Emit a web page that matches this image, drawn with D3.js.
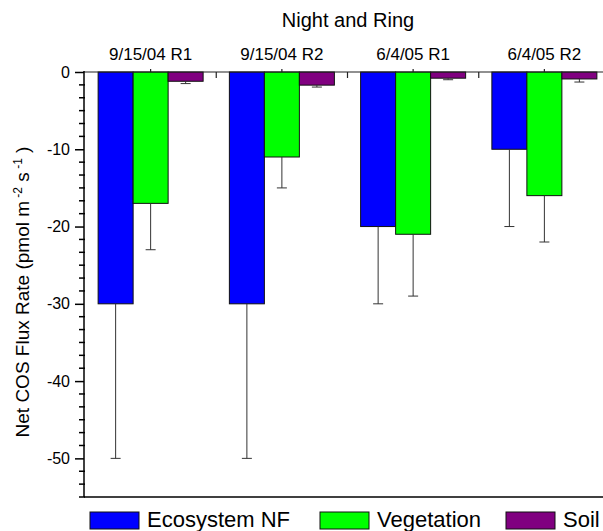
<!DOCTYPE html>
<html>
<head>
<meta charset="utf-8">
<script src="https://cdn.jsdelivr.net/npm/d3@7"></script>
<style>
  body { margin: 0; background: #fff; }
  text { font-family: Arial, "Liberation Sans", sans-serif; fill: #000; }
</style>
</head>
<body>
<div id="chart"></div>
<script>
// values
const categories = ["9/15/04 R1", "9/15/04 R2", "6/4/05 R1", "6/4/05 R2"];
const seriesNames = ["Ecosystem NF", "Vegetation", "Soil"];
const seriesColors = ["#0000ff", "#00ff00", "#800080"];
const ecosystem = [-30, -30, -20, -10];
const ecosystemErr = [20, 20, 10, 10];
const vegetation = [-17, -11, -21, -16];
const vegetationErr = [6, 4, 8, 6];
const soil = [-1.2, -1.7, -0.8, -0.9];
const soilErr = [0.3, 0.25, 0.2, 0.4];
const yTicks = [0, -10, -20, -30, -40, -50];

const width = 603, height = 531;

const svg = d3.select("#chart")
  .append("svg")
    .attr("width", width)
    .attr("height", height);

// scales
const x0 = d3.scaleBand()
  .domain(categories)
  .range([85, 610])
  .padding(0);

const x1 = d3.scaleBand()
  .domain(seriesNames)
  .range([0, x0.bandwidth()])
  .paddingInner(0)
  .paddingOuter(0.375);

const y = d3.scaleLinear()
  .domain([0, -55])
  .range([72, 497]);

// rows for the bars
const values = [ecosystem, vegetation, soil];
const errs = [ecosystemErr, vegetationErr, soilErr];
const rows = [];
categories.forEach(function(c, i) {
  seriesNames.forEach(function(s, j) {
    rows.push({cat: c, series: s, value: values[j][i], err: errs[j][i], color: seriesColors[j]});
  });
});

// bars
svg.append("g")
  .selectAll("rect")
  .data(rows)
  .enter()
  .append("rect")
    .attr("x", d => x0(d.cat) + x1(d.series))
    .attr("y", y(0))
    .attr("width", x1.bandwidth())
    .attr("height", d => y(d.value) - y(0))
    .attr("fill", d => d.color)
    .attr("stroke", "#111")
    .attr("stroke-width", 1);

// error bars (one sided, downward)
const eb = svg.append("g").attr("stroke", "#333").attr("stroke-width", 1);
rows.forEach(function(d) {
  const cx = x0(d.cat) + x1(d.series) + x1.bandwidth() / 2;
  eb.append("line")
    .attr("x1", cx).attr("x2", cx)
    .attr("y1", y(d.value)).attr("y2", y(d.value - d.err));
  eb.append("line")
    .attr("x1", cx - 5).attr("x2", cx + 5)
    .attr("y1", y(d.value - d.err)).attr("y2", y(d.value - d.err));
});

// top axis (zero line) with ticks
svg.append("line")
  .attr("x1", 84).attr("x2", 610)
  .attr("y1", y(0)).attr("y2", y(0))
  .attr("stroke", "#222").attr("stroke-width", 1.2);

const topTicks = svg.append("g").attr("stroke", "#222").attr("stroke-width", 1.2);
categories.forEach(function(c, i) {
  const cx = x0(c) + x0.bandwidth() / 2;
  topTicks.append("line")
    .attr("x1", cx).attr("x2", cx)
    .attr("y1", y(0)).attr("y2", y(0) - 3);
  if (i > 0) {
    topTicks.append("line")
      .attr("x1", x0(c)).attr("x2", x0(c))
      .attr("y1", y(0)).attr("y2", y(0) + 6);
  }
});

// category labels on top
svg.append("g")
  .selectAll("text")
  .data(categories)
  .enter()
  .append("text")
    .attr("x", d => x0(d) + x0.bandwidth() / 2)
    .attr("y", 60)
    .attr("text-anchor", "middle")
    .style("font-size", "17px")
    .text(d => d);

// title
svg.append("text")
  .attr("x", 348)
  .attr("y", 27)
  .attr("text-anchor", "middle")
  .style("font-size", "20px")
  .text("Night and Ring");

// left axis
const yAxis = svg.append("g")
  .attr("transform", "translate(84,0)")
  .call(d3.axisLeft(y).tickValues(yTicks).tickSize(9).tickPadding(5).tickFormat(d => String(d)));
yAxis.select(".domain").remove();
yAxis.selectAll(".tick line").attr("stroke", "#000").attr("stroke-width", 1.5);
yAxis.selectAll(".tick text")
  .style("font-size", "16px")
  .style("font-family", "Arial, 'Liberation Sans', sans-serif");

// minor ticks every 10/6
const minorTicks = d3.range(0, 34).map(i => -i * 10 / 6).filter((v, i) => i % 6 !== 0);
svg.append("g")
  .selectAll("line")
  .data(minorTicks)
  .enter()
  .append("line")
    .attr("x1", 79).attr("x2", 85)
    .attr("y1", d => y(d)).attr("y2", d => y(d))
    .attr("stroke", "#000").attr("stroke-width", 1.5);

svg.append("line")
  .attr("x1", 84).attr("x2", 84)
  .attr("y1", y(0) - 1).attr("y2", y(-55))
  .attr("stroke", "#000").attr("stroke-width", 1.5);

// bottom axis line
svg.append("line")
  .attr("x1", 84).attr("x2", 610)
  .attr("y1", y(-55)).attr("y2", y(-55))
  .attr("stroke", "#000").attr("stroke-width", 1.5);

// y axis label
const yl = svg.append("text")
  .attr("transform", "translate(29," + 292 + ") rotate(-90)")
  .attr("text-anchor", "middle")
  .style("font-size", "19px");
yl.append("tspan").text("Net COS Flux Rate (pmol m");
yl.append("tspan").attr("dy", -7).style("font-size", "12px").text(" -2");
yl.append("tspan").attr("dy", 7).text(" s");
yl.append("tspan").attr("dy", -7).style("font-size", "12px").text(" -1");
yl.append("tspan").attr("dy", 7).text(" )");

// legend
const legendX = [90, 320, 506];
const legend = svg.append("g");
seriesNames.forEach(function(s, i) {
  legend.append("rect")
    .attr("x", legendX[i]).attr("y", 512)
    .attr("width", 49).attr("height", 17)
    .attr("fill", seriesColors[i])
    .attr("stroke", "#111").attr("stroke-width", 1);
  legend.append("text")
    .attr("x", legendX[i] + 57).attr("y", 527)
    .style("font-size", "22px")
    .text(s);
});
</script>
</body>
</html>
